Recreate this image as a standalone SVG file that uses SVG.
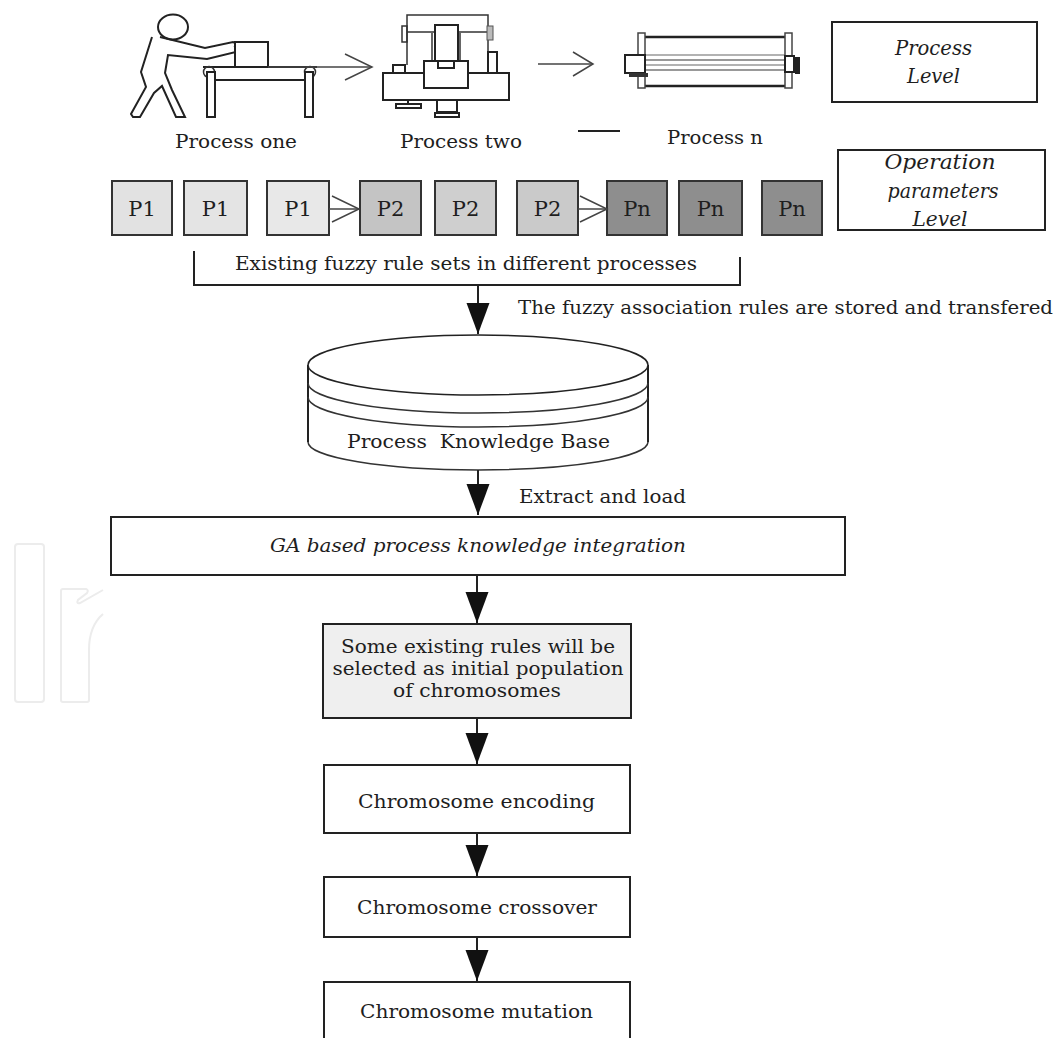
<svg xmlns="http://www.w3.org/2000/svg" width="1055" height="1038" viewBox="0 0 1055 1038">
<defs>
<style>
.t{font-family:"DejaVu Serif","Liberation Serif",serif;font-size:18px;fill:#1e1e1e}
.it{font-style:italic;font-size:20px}
.pt{font-size:21px;text-anchor:middle}
.box{fill:#fff;stroke:#222;stroke-width:2}
.pb{stroke:#333;stroke-width:2}
.ln{fill:none;stroke:#222;stroke-width:2}
.fw{fill:#fff;stroke:#222;stroke-width:2}
.thin{fill:none;stroke:#333;stroke-width:1.5}
.conn{fill:none;stroke:#222;stroke-width:2}
.oconn{fill:none;stroke:#444;stroke-width:1.5}
.wm{fill:none;stroke:#ececec;stroke-width:2}
</style>
<marker id="tri" markerUnits="userSpaceOnUse" markerWidth="32" markerHeight="24" refX="31" refY="11.5" orient="auto" overflow="visible">
<path d="M0,0 L31,11.5 L0,23 Z" fill="#111"/>
</marker>
<marker id="chev" markerUnits="userSpaceOnUse" markerWidth="28" markerHeight="26" refX="27" refY="13" orient="auto" overflow="visible">
<path d="M0,0 L27,13 L0,26" fill="none" stroke="#444" stroke-width="1.5"/>
</marker>
<marker id="chevs" markerUnits="userSpaceOnUse" markerWidth="28" markerHeight="26" refX="20" refY="12" orient="auto" overflow="visible">
<path d="M0,0 L20,12 L0,24" fill="none" stroke="#444" stroke-width="1.5"/>
</marker>
</defs>
<rect width="1055" height="1038" fill="#fff"/>

<g id="watermark">
<rect class="wm" x="15" y="544" width="29" height="158" rx="3"/>
<path class="wm" d="M63,702 L87,702 Q89,702 89,700 L89,650 Q89,626 103,614 M103,590 L80,603 Q76,604 78,600 L87,593 Q89,590 86,589 L63,589 Q61,589 61,591 L61,700 Q61,702 63,702"/>
</g>

<g id="process-one">
<ellipse cx="173" cy="27" rx="15" ry="12.5" class="fw"/>
<path class="ln" d="M152,37 L141,72 L146,87 L131,114 L133,117 L140,117 L154,93 L162,86 L176,117 L185,117 L172,90 L165,73 L168,55 L207,59 L236,52 L238,45 L233,42 L205,48 L160,37"/>
<path class="thin" d="M234,46 L241,50 M236,52 L241,44"/>
<rect x="235" y="42" width="33" height="25" class="fw"/>
<line x1="203" y1="67" x2="317" y2="67" class="ln"/>
<line x1="213" y1="80" x2="304" y2="80" class="ln"/>
<circle cx="209" cy="72" r="5.5" class="thin"/>
<circle cx="310" cy="72" r="5.5" class="thin"/>
<rect x="207" y="72" width="8" height="45" class="fw"/>
<rect x="305" y="72" width="8" height="45" class="fw"/>
<text class="t" x="175" y="148" textLength="122" lengthAdjust="spacingAndGlyphs">Process one</text>
</g>

<g id="process-two">
<path class="thin" d="M407,65 L407,15 L488,15 L488,52"/>
<line x1="407" y1="32" x2="488" y2="32" class="thin"/>
<rect x="402" y="26" width="5" height="16" class="thin"/>
<rect x="487" y="26" width="6" height="14" fill="#bbb" stroke="#555" stroke-width="1"/>
<line x1="432" y1="33" x2="432" y2="62" class="thin"/>
<line x1="460" y1="33" x2="460" y2="62" class="thin"/>
<rect x="435" y="25" width="23" height="37" class="fw"/>
<rect x="488" y="52" width="9" height="21" class="fw"/>
<rect x="393" y="65" width="12" height="8" class="fw"/>
<rect x="383" y="73" width="126" height="27" class="fw"/>
<rect x="424" y="61" width="44" height="27" class="fw"/>
<rect x="438" y="61" width="16" height="7" class="fw"/>
<rect x="396" y="104" width="25" height="4" class="fw"/>
<line x1="408" y1="100" x2="408" y2="104" class="ln"/>
<rect x="437" y="100" width="20" height="12" class="fw"/>
<rect x="435" y="113" width="24" height="4" class="fw"/>
<text class="t" x="400" y="148" textLength="122" lengthAdjust="spacingAndGlyphs">Process two</text>
</g>

<g id="process-n">
<line x1="645" y1="55" x2="785" y2="55" stroke="#999" stroke-width="1.5"/>
<line x1="645" y1="60" x2="785" y2="60" stroke="#777" stroke-width="1.5"/>
<line x1="645" y1="65" x2="785" y2="65" stroke="#999" stroke-width="1.5"/>
<line x1="645" y1="70" x2="785" y2="70" stroke="#777" stroke-width="1.5"/>
<line x1="645" y1="37" x2="785" y2="37" stroke="#222" stroke-width="2.5"/>
<line x1="645" y1="86" x2="785" y2="86" stroke="#222" stroke-width="2.5"/>
<rect x="638" y="33" width="7" height="55" fill="#fff" stroke="#444" stroke-width="1.5"/>
<rect x="785" y="33" width="7" height="55" fill="#fff" stroke="#444" stroke-width="1.5"/>
<rect x="625" y="55" width="20" height="18" class="fw"/>
<rect x="629" y="73" width="19" height="4" fill="#333"/>
<rect x="785" y="56" width="9" height="16" class="fw"/>
<rect x="795" y="57" width="5" height="17" fill="#222"/>
<line x1="578" y1="131" x2="620" y2="131" stroke="#222" stroke-width="2"/>
<text class="t" x="667" y="144" textLength="96" lengthAdjust="spacingAndGlyphs">Process n</text>
</g>

<g id="process-level">
<rect x="832" y="22" width="205" height="80" class="box"/>
<text class="t it" x="933.5" y="55" text-anchor="middle" textLength="77" lengthAdjust="spacingAndGlyphs">Process</text>
<text class="t it" x="933.5" y="83" text-anchor="middle" textLength="53" lengthAdjust="spacingAndGlyphs">Level</text>
</g>

<g id="operation-level">
<rect x="838" y="150" width="207" height="80" class="box"/>
<text class="t it" x="940" y="169" text-anchor="middle" textLength="111" lengthAdjust="spacingAndGlyphs">Operation</text>
<text class="t it" x="943" y="198" text-anchor="middle" textLength="111" lengthAdjust="spacingAndGlyphs">parameters</text>
<text class="t it" x="940" y="226" text-anchor="middle" textLength="55" lengthAdjust="spacingAndGlyphs">Level</text>
</g>

<g id="p1-a"><rect x="112" y="181" width="60" height="54" fill="#e2e2e2" class="pb"/><text class="t pt" x="142" y="216">P1</text></g>
<g id="p1-b"><rect x="184" y="181" width="63" height="54" fill="#e4e4e4" class="pb"/><text class="t pt" x="215.5" y="216">P1</text></g>
<g id="p1-c"><rect x="267" y="181" width="62" height="54" fill="#e8e8e8" class="pb"/><text class="t pt" x="298" y="216">P1</text></g>
<g id="p2-a"><rect x="360" y="181" width="61" height="54" fill="#c4c4c4" class="pb"/><text class="t pt" x="390.5" y="216">P2</text></g>
<g id="p2-b"><rect x="435" y="181" width="61" height="54" fill="#cfcfcf" class="pb"/><text class="t pt" x="465.5" y="216">P2</text></g>
<g id="p2-c"><rect x="517" y="181" width="61" height="54" fill="#cacaca" class="pb"/><text class="t pt" x="547.5" y="216">P2</text></g>
<g id="pn-a"><rect x="607" y="181" width="60" height="54" fill="#8e8e8e" class="pb"/><text class="t pt" x="637" y="216">Pn</text></g>
<g id="pn-b"><rect x="679" y="181" width="63" height="54" fill="#8e8e8e" class="pb"/><text class="t pt" x="710.5" y="216">Pn</text></g>
<g id="pn-c"><rect x="762" y="181" width="60" height="54" fill="#8e8e8e" class="pb"/><text class="t pt" x="792" y="216">Pn</text></g>

<g id="rule-sets-label">
<text class="t" x="235" y="270" textLength="462" lengthAdjust="spacingAndGlyphs">Existing fuzzy rule sets in different processes</text>
</g>

<g id="knowledge-base">
<path d="M308,365 L308,442 A170,28 0 0 0 648,442 L648,365 Z" fill="#fff" stroke="none"/>
<line x1="308" y1="365" x2="308" y2="442" class="ln" stroke-width="1.5"/>
<line x1="648" y1="365" x2="648" y2="442" class="ln" stroke-width="1.5"/>
<ellipse cx="478" cy="365" rx="170" ry="30" fill="#fff" stroke="#222" stroke-width="1.5"/>
<path class="thin" d="M308,383 A170,30 0 0 0 648,383"/>
<path class="thin" d="M308,397 A170,30 0 0 0 648,397"/>
<path class="thin" d="M308,442 A170,28 0 0 0 648,442"/>
<text class="t" x="347" y="448" textLength="263" lengthAdjust="spacingAndGlyphs" xml:space="preserve">Process  Knowledge Base</text>
</g>

<g id="labels">
<text class="t" x="518" y="314" textLength="535" lengthAdjust="spacingAndGlyphs">The fuzzy association rules are stored and transfered</text>
<text class="t" x="519" y="503" textLength="167" lengthAdjust="spacingAndGlyphs">Extract and load</text>
</g>

<g id="ga-integration">
<rect x="111" y="517" width="734" height="58" class="box"/>
<text class="t" font-style="italic" x="270" y="552" textLength="416" lengthAdjust="spacingAndGlyphs">GA based process knowledge integration</text>
</g>

<g id="initial-population">
<rect x="323" y="624" width="308" height="94" fill="#efefef" stroke="#222" stroke-width="2"/>
<text class="t" x="478" y="653" text-anchor="middle" textLength="274" lengthAdjust="spacingAndGlyphs">Some existing rules will be</text>
<text class="t" x="478" y="675" text-anchor="middle" textLength="291" lengthAdjust="spacingAndGlyphs">selected as initial population</text>
<text class="t" x="477" y="697" text-anchor="middle" textLength="168" lengthAdjust="spacingAndGlyphs">of chromosomes</text>
</g>

<g id="encoding">
<rect x="324" y="765" width="306" height="68" class="box"/>
<text class="t" x="476.5" y="808" text-anchor="middle" textLength="237" lengthAdjust="spacingAndGlyphs">Chromosome encoding</text>
</g>

<g id="crossover">
<rect x="324" y="877" width="306" height="60" class="box"/>
<text class="t" x="477" y="914" text-anchor="middle" textLength="240" lengthAdjust="spacingAndGlyphs">Chromosome crossover</text>
</g>

<g id="mutation">
<rect x="324" y="982" width="306" height="70" class="box"/>
<text class="t" x="476.5" y="1018" text-anchor="middle" textLength="233" lengthAdjust="spacingAndGlyphs">Chromosome mutation</text>
</g>

<g id="connectors">
<line x1="268" y1="67" x2="372" y2="67" class="oconn" marker-end="url(#chev)"/>
<line x1="538" y1="64" x2="593" y2="64" class="oconn" marker-end="url(#chevs)"/>
<line x1="329" y1="209" x2="359" y2="209" class="oconn" marker-end="url(#chev)"/>
<line x1="578" y1="209" x2="607" y2="209" class="oconn" marker-end="url(#chev)"/>
<path class="conn" d="M194,251 L194,285 L740,285 L740,257"/>
<line x1="478" y1="285" x2="478" y2="334" class="conn" marker-end="url(#tri)"/>
<line x1="478" y1="470" x2="478" y2="515" class="conn" marker-end="url(#tri)"/>
<line x1="477" y1="575" x2="477" y2="623" class="conn" marker-end="url(#tri)"/>
<line x1="477" y1="718" x2="477" y2="764" class="conn" marker-end="url(#tri)"/>
<line x1="477" y1="833" x2="477" y2="876" class="conn" marker-end="url(#tri)"/>
<line x1="477" y1="937" x2="477" y2="981" class="conn" marker-end="url(#tri)"/>
</g>
</svg>
